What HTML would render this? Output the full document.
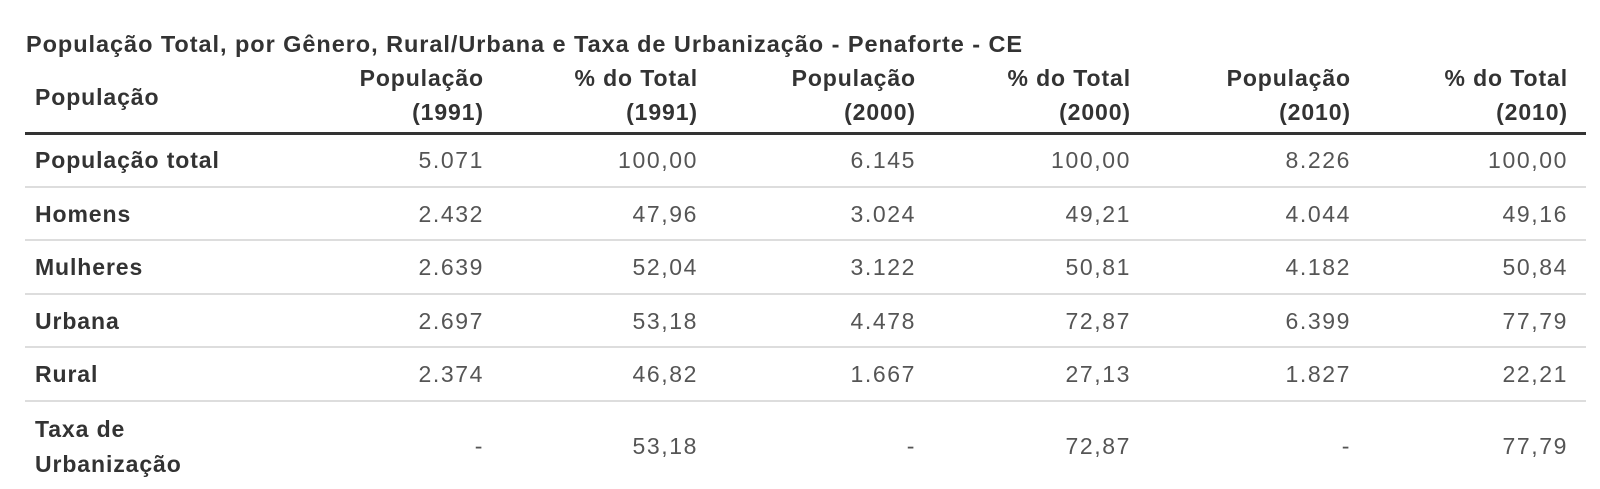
<!DOCTYPE html>
<html><head><meta charset="utf-8"><style>
body{margin:0;width:1600px;height:489px;background:#fff;font-family:"Liberation Sans",Arial,sans-serif;position:relative;overflow:hidden}
.t{position:absolute;white-space:nowrap;font-size:23px;line-height:26px}
.b{font-weight:bold;color:#333;letter-spacing:0.9px}
.n{color:#555;letter-spacing:1.6px}
.l{position:absolute;left:25px;width:1561px;height:2px;background:#ddd}
</style></head><body>
<div class="t b" style="left:26px;top:31px;font-size:23.5px;letter-spacing:0.95px">População Total, por Gênero, Rural/Urbana e Taxa de Urbanização - Penaforte - CE</div>
<div class="t b" style="left:35px;top:84px">População</div>
<div id="hdr"></div>
<div class="l" style="top:132px;height:3px;background:#333"></div>
<div class="l" style="top:186px"></div>
<div class="l" style="top:239px"></div>
<div class="l" style="top:293px"></div>
<div class="l" style="top:346px"></div>
<div class="l" style="top:400px"></div>
<script>
var R=[483,697,915,1130,1350,1567];
var H=[["População","(1991)"],["% do Total","(1991)"],["População","(2000)"],["% do Total","(2000)"],["População","(2010)"],["% do Total","(2010)"]];
var rows=[["População total","5.071","100,00","6.145","100,00","8.226","100,00"],
["Homens","2.432","47,96","3.024","49,21","4.044","49,16"],
["Mulheres","2.639","52,04","3.122","50,81","4.182","50,84"],
["Urbana","2.697","53,18","4.478","72,87","6.399","77,79"],
["Rural","2.374","46,82","1.667","27,13","1.827","22,21"]];
function r(x){return 'right:'+(1600-x)+'px;margin-right:-1px;';}
var h="";
for(var i=0;i<6;i++){h+='<div class="t b" style="'+r(R[i])+'top:65px">'+H[i][0]+'</div><div class="t b" style="'+r(R[i])+'top:99px">'+H[i][1]+'</div>';}
var ys=[147,201,254,308,361];
for(var j=0;j<5;j++){h+='<div class="t b" style="left:35px;top:'+ys[j]+'px">'+rows[j][0]+'</div>';
for(var i=0;i<6;i++)h+='<div class="t n" style="'+r(R[i])+'top:'+ys[j]+'px">'+rows[j][i+1]+'</div>';}
h+='<div class="t b" style="left:35px;top:416px">Taxa de</div><div class="t b" style="left:35px;top:451px">Urbanização</div>';
var last=["-","53,18","-","72,87","-","77,79"];
for(var i=0;i<6;i++)h+='<div class="t n" style="'+r(R[i])+'top:433px">'+last[i]+'</div>';
document.getElementById("hdr").outerHTML=h;
</script>
</body></html>
